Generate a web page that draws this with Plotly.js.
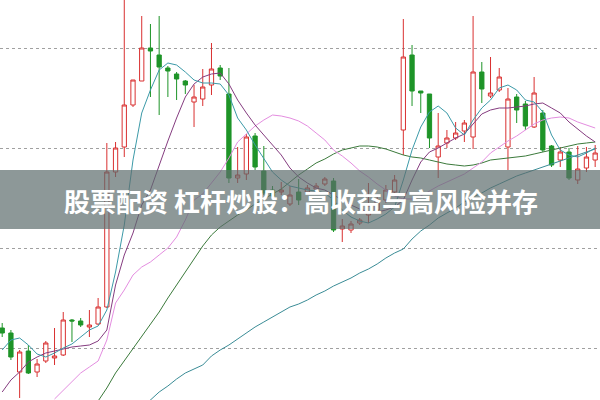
<!DOCTYPE html>
<html>
<head>
<meta charset="utf-8">
<script src="https://cdn.plot.ly/plotly-3.0.1.min.js"></script>
<style>html,body{margin:0;padding:0;background:#fff}#chart{width:600px;height:400px}</style>
</head>
<body>
<div id="chart"></div>
<script>
// candle index
const idx = Array.from({length: 69}, (_, i) => i);
// OHLC
const openV  = [8.20,8.15,7.76,7.97,7.76,7.87,7.90,7.93,8.28,8.27,8.21,8.24,8.41,9.76,10.01,10.43,10.67,11.00,10.93,10.80,10.74,10.67,10.46,10.49,10.63,10.80,10.54,9.70,9.74,10.12,9.77,9.58,9.56,9.44,9.56,9.56,9.59,9.64,9.67,9.19,9.18,9.25,9.33,9.38,9.48,9.56,10.18,10.93,10.57,10.54,9.91,10.05,10.10,10.17,10.11,10.76,10.52,10.58,10.01,10.51,10.44,10.21,10.35,10.02,9.88,9.96,9.68,9.80,9.88];
const highV  = [8.25,8.18,7.98,8.03,7.89,8.07,8.20,8.36,8.29,8.30,8.38,8.50,10.05,10.06,11.51,10.68,11.32,11.24,11.32,10.82,10.76,10.68,10.63,10.79,11.05,10.83,10.80,10.01,10.14,10.15,10.02,9.62,9.66,9.62,9.69,9.63,9.65,9.71,9.70,9.29,9.27,9.30,9.65,9.53,9.63,9.73,11.29,11.03,10.57,10.54,10.35,10.18,10.26,10.28,11.32,10.86,10.91,10.80,10.60,10.54,10.47,10.71,10.38,10.03,10.01,10.00,10.02,10.01,10.03];
const lowV   = [8.11,7.88,7.50,7.74,7.71,7.85,7.83,7.92,8.06,8.21,8.11,8.23,8.40,9.71,9.91,10.41,10.67,10.51,10.33,10.51,10.48,10.54,10.21,10.42,10.53,10.68,9.65,9.65,9.68,9.78,9.53,9.49,9.53,9.42,9.43,9.54,9.56,9.62,9.16,9.06,9.15,9.23,9.25,9.35,9.45,9.53,9.93,10.42,10.35,10.00,9.70,10.00,10.08,10.06,9.99,10.45,10.50,10.56,9.78,10.25,10.18,10.20,9.96,9.81,9.81,9.68,9.64,9.76,9.81];
const closeV = [8.15,7.91,7.96,7.75,7.84,8.05,7.92,8.28,8.27,8.23,8.23,8.41,9.76,10.00,10.43,10.68,11.00,10.97,10.81,10.77,10.69,10.63,10.51,10.61,10.79,10.72,9.70,9.73,10.11,9.81,9.55,9.52,9.58,9.53,9.48,9.60,9.62,9.69,9.18,9.22,9.24,9.28,9.43,9.48,9.58,9.68,10.91,10.57,10.55,10.10,10.02,10.10,10.15,10.25,10.76,10.59,10.55,10.71,10.49,10.38,10.22,10.55,9.98,9.83,9.96,9.70,9.79,9.91,9.95];
// moving-average lines
const ma5  = [7.98,8.08,8.10,8.03,7.94,7.91,7.95,8.00,8.04,8.11,8.18,8.22,8.38,8.76,9.23,9.88,10.35,10.58,10.78,10.85,10.83,10.76,10.68,10.65,10.65,10.64,10.53,10.30,10.18,10.03,9.89,9.76,9.68,9.62,9.60,9.58,9.57,9.55,9.48,9.38,9.31,9.27,9.25,9.29,9.34,9.41,9.68,9.98,10.21,10.36,10.42,10.35,10.20,10.13,10.28,10.40,10.48,10.60,10.63,10.58,10.48,10.46,10.36,10.13,9.98,9.93,9.91,9.95,10.00];
const ma10 = [7.56,7.68,7.76,7.86,7.91,7.95,7.97,7.99,8.01,8.02,8.03,8.07,8.18,8.63,8.93,9.15,9.43,9.58,9.83,10.07,10.30,10.51,10.64,10.71,10.74,10.75,10.64,10.48,10.35,10.23,10.13,10.03,9.93,9.80,9.71,9.65,9.60,9.58,9.53,9.48,9.43,9.39,9.36,9.36,9.38,9.41,9.48,9.68,9.86,9.96,10.00,10.05,10.10,10.14,10.24,10.34,10.38,10.40,10.40,10.41,10.42,10.44,10.45,10.40,10.35,10.26,10.19,10.12,10.06];
const ma20 = [null,null,null,null,null,null,7.49,7.58,7.66,7.75,7.81,7.87,8.08,8.45,8.58,8.73,8.81,8.86,8.93,9.00,9.11,9.28,9.48,9.54,9.65,9.76,9.90,10.06,10.14,10.22,10.28,10.33,10.32,10.30,10.27,10.22,10.15,10.08,9.98,9.92,9.85,9.77,9.71,9.64,9.58,9.52,9.49,9.49,9.52,9.57,9.62,9.66,9.70,9.74,9.80,9.86,9.95,10.01,10.07,10.12,10.18,10.24,10.28,10.30,10.31,10.30,10.26,10.23,10.20];
const ma30 = [null,null,null,null,null,null,null,null,null,null,null,7.47,7.60,7.75,7.87,7.99,8.11,8.23,8.36,8.50,8.63,8.76,8.88,9.02,9.13,9.21,9.27,9.33,9.38,9.44,9.49,9.54,9.59,9.66,9.73,9.79,9.85,9.89,9.94,9.98,10.00,10.02,10.02,10.01,9.99,9.96,9.93,9.91,9.90,9.88,9.86,9.84,9.83,9.82,9.83,9.85,9.88,9.89,9.90,9.91,9.92,9.94,9.96,9.98,10.00,10.02,10.04,10.05,10.06];
const ma60 = [null,null,null,null,null,null,null,null,null,null,null,null,null,null,null,null,7.40,7.48,7.56,7.62,7.69,7.75,7.79,7.83,7.92,7.98,8.03,8.09,8.15,8.21,8.26,8.31,8.36,8.41,8.44,8.48,8.53,8.57,8.62,8.66,8.70,8.75,8.79,8.84,8.90,8.95,8.99,9.09,9.17,9.23,9.30,9.35,9.40,9.46,9.51,9.55,9.60,9.64,9.68,9.72,9.75,9.78,9.81,9.84,9.87,9.90,9.93,9.96,9.99];
const gridVals = [8, 9, 10, 11];
const bannerText = '股票配资 杠杆炒股：高收益与高风险并存';

function maLine(y, color) {
  return {type: 'scatter', mode: 'lines', x: idx, y: y, line: {color: color, width: 1}, hoverinfo: 'skip', connectgaps: false, showlegend: false};
}

const data = [
  maLine(ma60, '#3a8c96'),
  maLine(ma30, '#3b7a3b'),
  maLine(ma20, '#e48de0'),
  maLine(ma10, '#853c80'),
  maLine(ma5, '#3c9aa8'),
  {
    type: 'candlestick', x: idx, open: openV, high: highV, low: lowV, close: closeV,
    increasing: {line: {color: '#d93030', width: 1}, fillcolor: '#ffffff'},
    decreasing: {line: {color: '#1e9428', width: 1}, fillcolor: '#1e9428'},
    whiskerwidth: 0, hoverinfo: 'skip', showlegend: false
  }
];

const layout = {
  width: 600, height: 400,
  margin: {l: 0, r: 0, t: 0, b: 0},
  paper_bgcolor: '#ffffff', plot_bgcolor: '#ffffff',
  showlegend: false,
  boxgap: 0.3,
  xaxis: {range: [-0.252, 68.555], showgrid: false, zeroline: false, showticklabels: false, ticks: '', rangeslider: {visible: false}, fixedrange: true},
  yaxis: {range: [7.48, 11.48], tickvals: gridVals, showticklabels: false, ticks: '', zeroline: false,
          showgrid: true, gridcolor: '#a0a0a0', gridwidth: 1, griddash: 'dot', fixedrange: true},
  shapes: [{type: 'rect', xref: 'paper', yref: 'paper', x0: 0, x1: 1, y0: 0.4275, y1: 0.575,
            fillcolor: 'rgba(92,108,108,0.70)', line: {width: 0}, layer: 'above'}],
  annotations: [{xref: 'paper', yref: 'paper', x: 0.502, y: 0.5, xanchor: 'center', yanchor: 'middle',
                 text: bannerText, showarrow: false,
                 font: {family: 'Noto Sans CJK SC', size: 26, color: '#ffffff', weight: 'bold'}}]
};

Plotly.newPlot('chart', data, layout, {staticPlot: true, displayModeBar: false});
</script>
</body>
</html>
